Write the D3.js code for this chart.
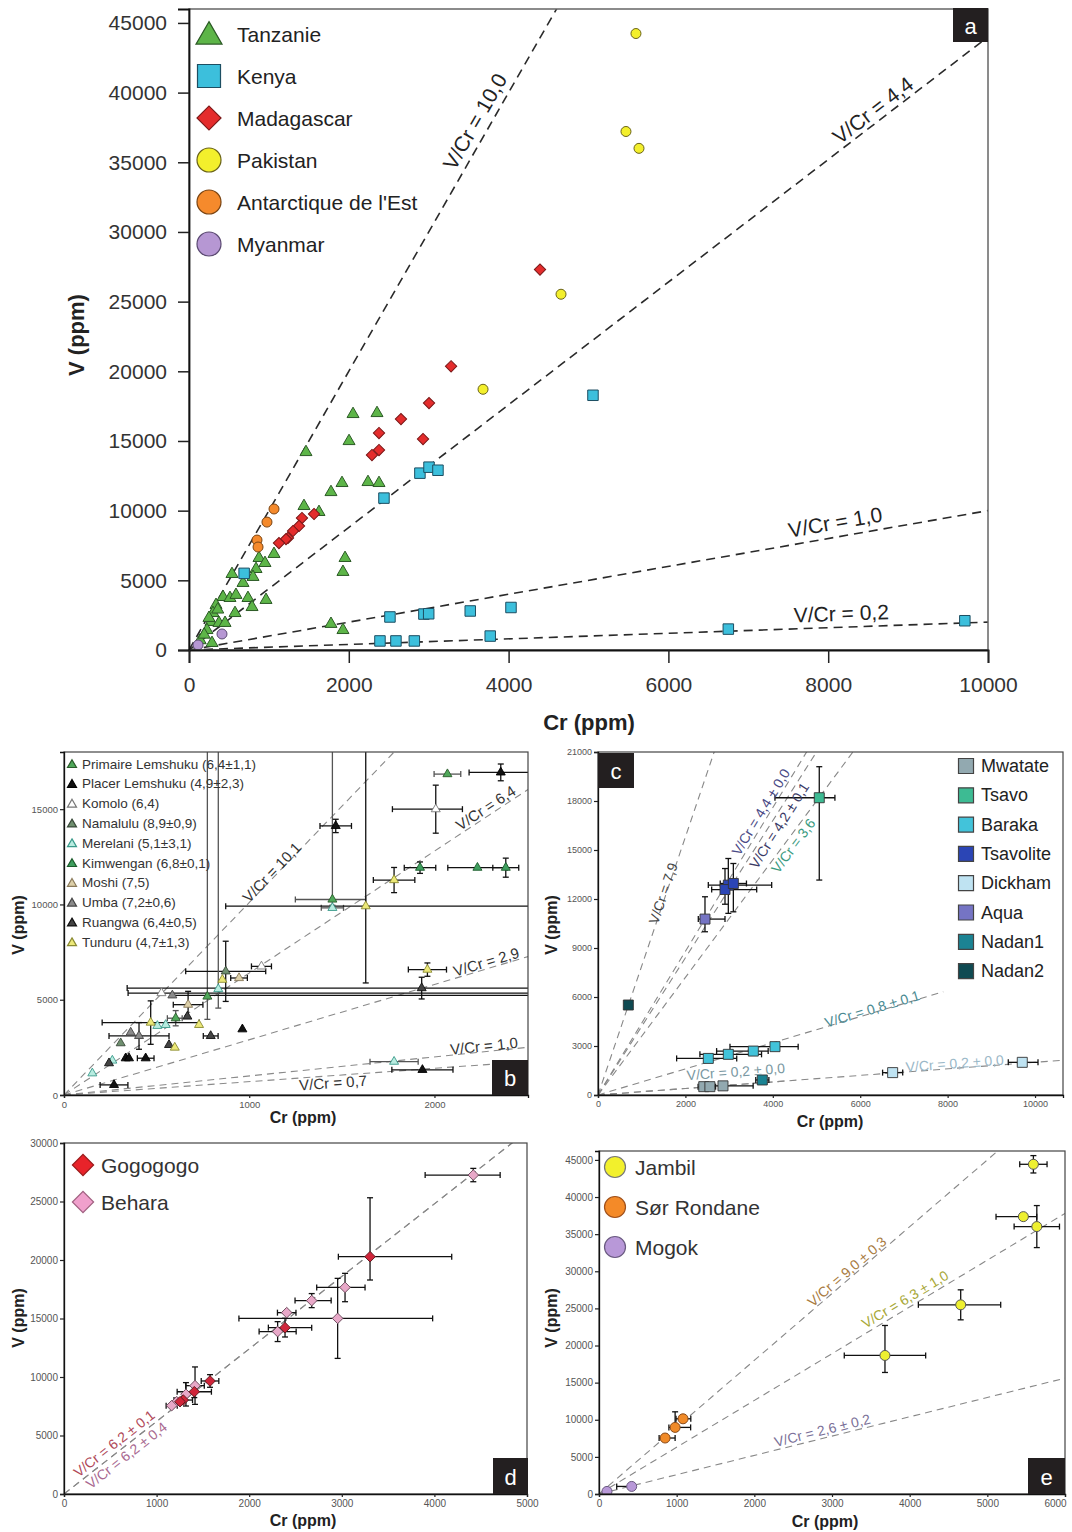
<!DOCTYPE html>
<html><head><meta charset="utf-8">
<script src="https://cdn.jsdelivr.net/npm/d3@7"></script>
<style>body{margin:0;background:#fff} svg text{font-family:"Liberation Sans",Arial,sans-serif}</style>
</head><body>
<svg id="chart" width="1072" height="1532"></svg>
<script>
// ---------- DATA (Cr ppm, V ppm [, Cr err low, Cr err high, V err low, V err high]) ----------
// Panel a
const aSeries = ["Tanzanie","Kenya","Madagascar","Pakistan","Antarctique de l'Est","Myanmar"];
const aTanzanie = [[2053,16930],[2353,17000],[2003,14990],[1464,14200],[1915,11980],[2240,12050],[2378,11980],[1777,11330],[1439,10330],[1627,9900],[1953,6600],[1927,5600],[1064,6890],[876,6600],[951,6240],[839,5810],[538,5450],[801,5240],[676,4810],[426,3800],[513,3730],[588,3950],[738,3730],[964,3590],[789,3080],[576,2650],[338,3230],[300,2650],[275,2010],[375,1940],[451,1940],[225,1430],[288,500],[1777,1870],[1927,1430],[140,700],[190,1100],[250,2300],[360,2900]];
const aKenya = [[5056,18280],[2440,10900],[2890,12690],[3004,13120],[3116,12900],[690,5500],[2515,2370],[2940,2580],[3000,2600],[3520,2800],[4030,3050],[2390,650],[2590,650],[2820,650],[3770,1000],[6750,1500],[9710,2100]];
const aMadagascar = [[4393,27300],[3280,20360],[3004,17720],[2929,15140],[2653,16570],[2378,15570],[2378,14350],[2290,13990],[1565,9760],[1414,9470],[1377,8900],[1302,8540],[1239,8040],[1214,7960],[1126,7670]];
const aPakistan = [[5594,44240],[5469,37210],[5632,36000],[4656,25530],[3680,18710]];
const aAntarctique = [[1064,10120],[976,9180],[851,7890],[864,7390]];
const aMyanmar = [[113,360],[413,1150]];
const aRatios = [10, 4.4, 1.0, 0.2];
const aRatioLabels = ["V/Cr = 10,0","V/Cr = 4,4","V/Cr = 1,0","V/Cr = 0,2"];
const aXTicks = [0,2000,4000,6000,8000,10000];
const aYTicks = [0,5000,10000,15000,20000,25000,30000,35000,40000,45000];

// Panel b (Tanzania deposits)
const bSeries = ["Primaire Lemshuku (6,4±1,1)","Placer Lemshuku (4,9±2,3)","Komolo (6,4)","Namalulu (8,9±0,9)","Merelani (5,1±3,1)","Kimwengan (6,8±0,1)","Moshi (7,5)","Umba (7,2±0,6)","Ruangwa (6,4±0,5)","Tunduru (4,7±1,3)"];
const bPrimaire = [[2070,16840,72,72,0,0],[1449,10260,200,180,300,9000],[774,5170,0,0,1200,13000],[603,4030,45,35,400,400]];
const bPlacer = [[2358,16930,171,300,440,440],[1467,14120,85,85,350,350],[963,3450,0,0,0,0],[270,530,75,75,0,0],[1935,1320,165,165,0,0],[333,1930,0,0,0,0],[351,1930,0,0,0,0],[441,1930,45,45,0,0]];
const bKomolo = [[2007,15000,234,144,1260,1260],[1066,6750,54,54,0,0],[526,5350,180,2500,0,0]];
const bNamalulu = [[306,2720,0,0,0,0],[873,6490,216,216,1580,1580]];
const bMerelani = [[833,5560,0,0,1000,13000],[549,3680,0,0,0,0],[504,3630,0,0,0,0],[261,1810,0,0,0,0],[1782,1750,130,130,0,0],[1449,9820,60,60,0,0],[153,1140,0,0,0,0]];
const bKimwengan = [[1922,11930,85,85,300,300],[2232,11930,160,160,0,0],[2385,11930,70,70,500,500]];
const bMoshi = [[945,6140,45,45,0,0],[670,4740,80,80,700,700]];
const bUmba = [[585,5230,0,2500,0,0],[360,3280,0,0,0,0],[405,3100,162,162,700,700]];
const bRuangwa = [[1931,5610,1590,1590,570,570],[792,3100,40,40,0,0],[567,2630,0,0,0,0],[243,1670,0,0,0,0],[666,4120,0,0,0,0]];
const bTunduru = [[1782,11280,112,112,660,660],[1629,9910,756,1500,4030,9000],[1962,6580,103,103,350,350],[855,6050,0,0,0,0],[468,3800,262,262,1140,1140],[729,3680,0,0,0,0],[598,2490,0,0,0,0]];
const bRatios = [10.1, 6.4, 2.9, 1.0, 0.7];
const bRatioLabels = ["V/Cr = 10,1","V/Cr = 6,4","V/Cr = 2,9","V/Cr = 1,0","V/Cr = 0,7"];
const bXTicks = [0,1000,2000];
const bYTicks = [0,5000,10000,15000];

// Panel c (Kenya deposits)
const cSeries = ["Mwatate","Tsavo","Baraka","Tsavolite","Dickham","Aqua","Nadan1","Nadan2"];
const cMwatate = [[2420,510,130,130,0,0],[2560,510,130,130,0,0],[2860,560,230,690,0,0]];
const cTsavo = [[5063,18200,1014,358,5040,1900]];
const cBaraka = [[4050,2960,1030,530,0,0],[3554,2690,840,340,0,0],[2982,2490,650,760,0,0],[2524,2240,725,650,0,0]];
const cTsavolite = [[2982,12850,458,992,1730,1630],[2906,12580,305,725,900,1285],[3097,12950,300,300,1734,1224]];
const cDickham = [[6742,1370,230,230,0,0],[9708,2000,320,360,0,0]];
const cAqua = [[2448,10770,153,458,775,1367]];
const cNadan1 = [[3760,920,150,150,0,0]];
const cNadan2 = [[694,5510,0,0,0,0]];
const cRatios = [7.9, 4.4, 4.2, 3.6, 0.8, 0.2, 0.2];
const cRatioLabels = ["V/Cr = 7,9","V/Cr = 4,4 ± 0,0","V/Cr = 4,2 ± 0,1","V/Cr = 3,6","V/Cr = 0,8 ± 0,1","V/Cr = 0,2 ± 0,0","V/Cr = 0,2 ± 0,0"];
const cXTicks = [0,2000,4000,6000,8000,10000];
const cYTicks = [0,3000,6000,9000,12000,15000,18000,21000];

// Panel d (Madagascar deposits)
const dSeries = ["Gogogogo","Behara"];
const dGogogogo = [[3305,20280,342,882,1990,5040],[2387,14220,180,288,800,800],[1577,9660,95,95,540,540],[1407,8740,185,185,500,500],[1288,8030,100,100,0,0],[1253,7890,0,0,0,0]];
const dBehara = [[4420,27260,520,290,570,570],[3035,17660,306,216,1225,1200],[2675,16530,180,210,600,600],[2955,15010,1066,1026,3420,3420],[2405,15500,100,100,0,0],[2307,13880,200,200,850,850],[1415,9260,100,100,1600,1600],[1317,8520,0,0,1000,1000],[1217,7890,0,0,0,0],[1163,7550,60,60,0,0]];
const dRatios = [6.2, 6.2];
const dRatioLabels = ["V/Cr = 6,2 ± 0,1","V/Cr = 6,2 ± 0,4"];
const dXTicks = [0,1000,2000,3000,4000,5000];
const dYTicks = [0,5000,10000,15000,20000,25000,30000];

// Panel e (Pakistan, Antarctica, Myanmar)
const eSeries = ["Jambil","Sør Rondane","Mogok"];
const eJambil = [[5593,44410,176,176,1170,1170],[5464,37360,352,172,0,0],[5637,36020,292,292,2830,2830],[4657,25480,545,515,2020,2020],[3682,18660,524,524,2290,4040]];
const eSorRondane = [[1082,10130,90,100,0,0],[980,8970,80,200,500,2100],[851,7540,77,129,0,0]];
const eMogok = [[103,350,0,0,0,0],[421,1020,193,0,0,0]];
const eRatios = [9.0, 6.3, 2.6];
const eRatioLabels = ["V/Cr = 9,0 ± 0,3","V/Cr = 6,3 ± 1,0","V/Cr = 2,6 ± 0,2"];
const eXTicks = [0,1000,2000,3000,4000,5000,6000];
const eYTicks = [0,5000,10000,15000,20000,25000,30000,35000,40000,45000];

// ---------- DRAWING ----------
const svg = d3.select("#chart");
let clipN = 0;

function symPath(shape, w) {
  if (shape === "tri") return d3.symbol(d3.symbolTriangle, w * w * Math.sqrt(3) / 4)();
  if (shape === "cir") return d3.symbol(d3.symbolCircle, Math.PI * w * w / 4)();
  return d3.symbol(d3.symbolSquare, w * w)();
}

function makePanel(o) {
  const g = svg.append("g");
  const x = d3.scaleLinear().domain(o.xd).range([o.l, o.r]);
  const y = d3.scaleLinear().domain(o.yd).range([o.b, o.t]);
  const id = "clip" + (clipN++);
  g.append("clipPath").attr("id", id).append("rect")
    .attr("x", o.l).attr("y", o.t).attr("width", o.r - o.l).attr("height", o.b - o.t);
  const plot = g.append("g").attr("clip-path", `url(#${id})`);
  const top = g.append("g");
  return {g: top, plot, x, y, o};
}

function drawFrame(P, big) {
  const {g, x, y, o} = P;
  g.append("rect").attr("x", o.l).attr("y", o.t).attr("width", o.r - o.l).attr("height", o.b - o.t)
    .attr("fill", "none").attr("stroke", big ? "#666" : "#444").attr("stroke-width", big ? 1.5 : 1.2);
  const ya = g.append("g").attr("transform", `translate(${o.l},0)`)
    .call(d3.axisLeft(y).tickValues(o.yt).tickFormat(d3.format("d")).tickSizeOuter(0).tickSize(big ? 11 : 4).tickPadding(big ? 11 : 2));
  const xa = g.append("g").attr("transform", `translate(0,${o.b})`)
    .call(d3.axisBottom(x).tickValues(o.xt).tickFormat(d3.format("d")).tickSizeOuter(0).tickSize(big ? 13 : 3).tickPadding(big ? 14 : 3));
  [ya, xa].forEach(a => {
    a.select(".domain").attr("stroke", "#111").attr("stroke-width", big ? 1.8 : 1.3);
    a.selectAll(".tick line").attr("stroke", "#222").attr("stroke-width", big ? 1.5 : 1.2);
    a.selectAll(".tick text").attr("fill", big ? "#333" : "#555")
      .style("font-size", big ? "21px" : (o.tf || "9.5px"));
  });
  if (o.lastShift) xa.selectAll(".tick text").filter((d, i, n) => i === n.length - 1).attr("dx", o.lastShift);
  g.append("text").attr("transform", `translate(${o.ytx},${o.yty}) rotate(-90)`)
    .attr("text-anchor", "middle").attr("dominant-baseline", "central")
    .style("font-size", big ? "22px" : "16px").style("font-weight", "bold").attr("fill", "#222").text("V (ppm)");
  g.append("text").attr("x", o.xtx).attr("y", o.xty)
    .attr("text-anchor", "middle").attr("dominant-baseline", "central")
    .style("font-size", big ? "22px" : "16px").style("font-weight", "bold").attr("fill", "#222").text("Cr (ppm)");
  g.append("rect").attr("x", o.box[0]).attr("y", o.box[1]).attr("width", o.box[2]).attr("height", o.box[3]).attr("fill", "#231f20");
  g.append("text").attr("x", o.box[0] + o.box[2] / 2).attr("y", o.box[1] + o.box[3] / 2 + 1)
    .attr("text-anchor", "middle").attr("dominant-baseline", "central")
    .style("font-size", "22px").attr("fill", "#fff").text(o.letter);
}

function drawRatios(P, ratios, ends, style) {
  const {plot, x, y, o} = P;
  ratios.forEach((r, i) => {
    const xe = ends && ends[i] ? ends[i] : o.xd[1];
    plot.append("line").attr("x1", x(0)).attr("y1", y(0)).attr("x2", x(xe)).attr("y2", y(r * xe))
      .attr("stroke", style.color).attr("stroke-width", style.width).attr("stroke-dasharray", style.dash);
  });
}

function drawRatioLabels(P, ratios, labels, xAt, off, colors, size) {
  const {g, x, y} = P;
  ratios.forEach((r, i) => {
    const px = x(xAt[i]), py = y(r * xAt[i]);
    const th = Math.atan2(y(0) - py, px - x(0));
    const cx = px - Math.sin(th) * off[i], cy = py - Math.cos(th) * off[i];
    g.append("text").attr("transform", `translate(${cx},${cy}) rotate(${-th * 180 / Math.PI})`)
      .attr("text-anchor", "middle").attr("dominant-baseline", "central")
      .style("font-size", size).attr("fill", colors[i]).text(labels[i]);
  });
}

function drawErr(P, pts, cap, color) {
  const {plot, x, y} = P;
  const col = color || "#111";
  pts.forEach(p => {
    if (p.length < 6) return;
    const [cr, v, xl, xh, yl, yh] = p;
    if (xl || xh) {
      plot.append("line").attr("x1", x(cr - xl)).attr("x2", x(cr + xh)).attr("y1", y(v)).attr("y2", y(v))
        .attr("stroke", col).attr("stroke-width", 1.3);
      [cr - xl, cr + xh].forEach(e => {
        if (e !== cr) plot.append("line").attr("x1", x(e)).attr("x2", x(e)).attr("y1", y(v) - cap).attr("y2", y(v) + cap)
          .attr("stroke", col).attr("stroke-width", 1.3);
      });
    }
    if (yl || yh) {
      plot.append("line").attr("x1", x(cr)).attr("x2", x(cr)).attr("y1", y(v - yl)).attr("y2", y(v + yh))
        .attr("stroke", col).attr("stroke-width", 1.3);
      [v - yl, v + yh].forEach(e => {
        if (e !== v) plot.append("line").attr("x1", x(cr) - cap).attr("x2", x(cr) + cap).attr("y1", y(e)).attr("y2", y(e))
          .attr("stroke", col).attr("stroke-width", 1.3);
      });
    }
  });
}

function drawPts(P, pts, shape, w, fill, stroke, sw) {
  const {plot, x, y} = P;
  plot.selectAll(null).data(pts).enter().append("path")
    .attr("d", symPath(shape, w))
    .attr("transform", d => `translate(${x(d[0])},${y(d[1])})${shape === "dia" ? " rotate(45)" : ""}`)
    .attr("fill", fill).attr("stroke", stroke).attr("stroke-width", sw || 1);
}

function drawLegend(g, names, shapes, fills, strokes, x0, y0, dy, w, tx, fs, txtColor) {
  names.forEach((n, i) => {
    const yy = y0 + i * dy;
    const sh = Array.isArray(shapes) ? shapes[i] : shapes;
    const ww = Array.isArray(w) ? w[i] : w;
    g.append("path").attr("d", symPath(sh, ww))
      .attr("transform", `translate(${x0},${yy + (sh === "tri" ? ww * 0.1 : 0)})${sh === "dia" ? " rotate(45)" : ""}`)
      .attr("fill", fills[i]).attr("stroke", strokes[i]).attr("stroke-width", 1.2);
    g.append("text").attr("x", tx).attr("y", yy).attr("dominant-baseline", "central")
      .style("font-size", fs).attr("fill", txtColor).text(n);
  });
}

// ===== Panel a =====
const A = makePanel({l:189, r:988, t:9, b:650, xd:[0,10000], yd:[0,46000],
  xt:aXTicks, yt:aYTicks, ytx:76, yty:335, xtx:589, xty:722, box:[953,8,35,34], letter:"a"});
drawRatios(A, aRatios, null, {color:"#2a2a2a", width:1.6, dash:"9,6"});
drawRatioLabels(A, aRatios, aRatioLabels, [3740,8650,8120,8170], [15,12,15,14], ["#222","#222","#222","#222"], "21px");
const aFill = ["#5db548","#3cbfdc","#e42c2c","#f3ef2c","#f58a2c","#b697d3"];
const aStroke = ["#2c5a26","#1d4e62","#7a1818","#6a6318","#7a4412","#5b4a72"];
drawPts(A, aTanzanie, "tri", 12, aFill[0], aStroke[0]);
drawPts(A, aKenya, "sq", 10.5, aFill[1], aStroke[1]);
drawPts(A, aMadagascar, "dia", 8, aFill[2], aStroke[2]);
drawPts(A, aPakistan, "cir", 10, aFill[3], aStroke[3]);
drawPts(A, aAntarctique, "cir", 10, aFill[4], aStroke[4]);
drawPts(A, aMyanmar, "cir", 10, aFill[5], aStroke[5]);
drawFrame(A, true);
drawLegend(A.g, aSeries, ["tri","sq","dia","cir","cir","cir"], aFill, aStroke, 209, 34, 42, [26,23,17,24,24,24], 237, "21px", "#222");

// ===== Panel b =====
const B = makePanel({l:64, r:528, t:752, b:1095, xd:[0,2505], yd:[0,18000],
  xt:bXTicks, yt:bYTicks, ytx:18, yty:925, xtx:303, xty:1117, box:[492,1060,36,35], letter:"b"});
drawRatios(B, bRatios, null, {color:"#8a8a8a", width:1.1, dash:"7,5"});
const bFill = ["#4fa85a","#111111","#ffffff","#6f8f6f","#b8ece0","#3f9f5f","#dccfa8","#8a8a8a","#444444","#ece878"];
const bStroke = ["#2a5a2a","#000000","#777777","#3a4a3a","#3a9a8a","#1a5a2a","#8a7a5a","#444444","#111111","#8a8a30"];
const bData = [bPrimaire,bPlacer,bKomolo,bNamalulu,bMerelani,bKimwengan,bMoshi,bUmba,bRuangwa,bTunduru];
bData.forEach((d, i) => drawErr(B, d, 3, (i === 0 || i === 4) ? "#555" : "#111"));
bData.forEach((d, i) => drawPts(B, d, "tri", 9, bFill[i], bStroke[i], 0.9));
drawRatioLabels(B, bRatios, bRatioLabels, [1140,2300,2290,2270,1450], [5,8,7,6,-7], ["#333","#333","#333","#333","#333"], "15px");
drawFrame(B, false);
drawLegend(B.g, bSeries, "tri", bFill, bStroke, 72, 764, 19.8, 9, 82, "13.5px", "#333");

// ===== Panel c =====
const C = makePanel({l:598, r:1063, t:752, b:1095, xd:[0,10640], yd:[0,21000],
  xt:cXTicks, yt:cYTicks, ytx:551, yty:925, xtx:830, xty:1121, box:[598,753,36,35], letter:"c", tf:"9px"});
drawRatios(C, cRatios, [null,null,null,null,7900,4300,null], {color:"#888", width:1.1, dash:"7,5"});
const cFill = ["#92a9b0","#3dbb93","#42c3da","#2b45b5","#bfe3f2","#7574c4","#1b8393","#0f4a52"];
const cData = [cMwatate,cTsavo,cBaraka,cTsavolite,cDickham,cAqua,cNadan1,cNadan2];
cData.forEach(d => drawErr(C, d, 3));
cData.forEach((d, i) => drawPts(C, d, "sq", 10, cFill[i], "#333", 0.9));
drawRatioLabels(C, cRatios, cRatioLabels, [1556,3880,3990,4320,6300,3174,8170], [3,8,-8,-8,4,13,5],
  ["#444","#4a4a86","#3a3a66","#3a9a80","#4a8a92","#7a98a2","#9ab8c8"], "14px");
drawFrame(C, false);
drawLegend(C.g, cSeries, "sq", cFill, cFill.map(() => "#444"), 966, 766, 29.3, 15, 981, "18px", "#222");

// ===== Panel d =====
const D = makePanel({l:64, r:527, t:1143, b:1494, xd:[0,5000], yd:[0,30000],
  xt:dXTicks, yt:dYTicks, ytx:18, yty:1318, xtx:303, xty:1520, box:[493,1458,35,36], letter:"d", tf:"10px"});
drawRatios(D, dRatios, null, {color:"#888", width:1.1, dash:"7,5"});
drawErr(D, dGogogogo, 3);
drawErr(D, dBehara, 3);
drawPts(D, dBehara, "dia", 7.5, "#e8a8c8", "#6a4a5a", 0.9);
drawPts(D, dGogogogo, "dia", 7.5, "#d0253a", "#5a1a20", 0.9);
drawRatioLabels(D, dRatios, dRatioLabels, [600,620], [9,-8], ["#b04858","#a86890"], "14px");
drawFrame(D, false);
drawLegend(D.g, dSeries, "dia", ["#e8232a","#f0a0cc"], ["#9a1a1a","#a06080"], 83, 1165, 37, 15, 101, "21px", "#333");

// ===== Panel e =====
const E = makePanel({l:599, r:1065, t:1151, b:1494, xd:[0,6000], yd:[0,46200],
  xt:eXTicks, yt:eYTicks, ytx:551, yty:1318, xtx:825, xty:1521, box:[1028,1458,37,36], letter:"e", tf:"10px", lastShift:-10});
drawRatios(E, eRatios, null, {color:"#888", width:1.1, dash:"7,5"});
drawErr(E, eJambil, 3);
drawErr(E, eSorRondane, 3);
drawErr(E, eMogok, 3);
drawPts(E, eJambil, "cir", 10, "#eef030", "#555", 1);
drawPts(E, eSorRondane, "cir", 10, "#f08a28", "#8a4a18", 1);
drawPts(E, eMogok, "cir", 10, "#b898d8", "#6a5a80", 1);
drawRatioLabels(E, eRatios, eRatioLabels, [3250,4000,2900], [7,9,8], ["#a87a40","#a8a838","#7a7098"], "14px");
drawFrame(E, false);
drawLegend(E.g, eSeries, "cir", ["#f2f02c","#f48a28","#b898d8"], ["#777","#a0501a","#6a5a80"], 615, 1167, 40, 21, 635, "21px", "#333");
</script>
</body></html>
